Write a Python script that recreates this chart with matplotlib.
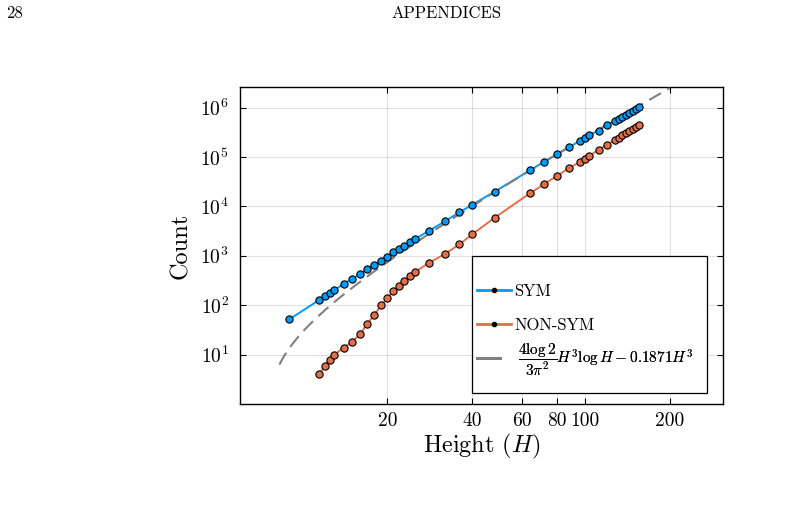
import numpy as np
import matplotlib
matplotlib.use("Agg")
import matplotlib.pyplot as plt
from matplotlib.lines import Line2D
from matplotlib.patches import Rectangle

plt.rcParams['font.family'] = ['cmr10', 'DejaVu Serif']
plt.rcParams['mathtext.fontset'] = 'cm'
plt.rcParams['axes.formatter.use_mathtext'] = True

# ---- data ----
sym_H = [9, 11.5, 12, 12.5, 13, 14, 15, 16, 17, 18, 19, 20, 21, 22, 23, 24, 25,
         28, 32, 36, 40, 48, 64, 72, 80, 88, 96, 100, 104, 112, 120,
         128, 132, 136, 140, 144, 148, 152, 156]
sym_count = [52, 129, 153, 177, 203, 269, 344, 428, 541, 661, 805, 960, 1178,
             1374, 1601, 1875, 2157, 3177, 4990, 7600, 10820, 19860, 53800,
             80400, 115000, 157000, 211000, 239000, 279000, 341000, 444000,
             543000, 598000, 658000, 719000, 786000, 857000, 932000, 1010000]

nonsym_H = [11.5, 12, 12.5, 13, 14, 15, 16, 17, 18, 19, 20, 21, 22, 23, 24, 25,
            28, 32, 36, 40, 48, 64, 72, 80, 88, 96, 100, 104, 112, 120,
            128, 132, 136, 140, 144, 148, 152, 156]
nonsym_count = [4, 6, 8, 10, 14, 18, 26, 42, 64, 100, 140, 191, 245, 305, 385,
                464, 715, 1087, 1710, 2725, 5900, 18400, 28400, 41800, 59000,
                79200, 92500, 106000, 139000, 177000, 221000, 246000, 274000,
                302000, 334000, 368000, 405000, 444000]

fit_coef = 4 * np.log(2) / (3 * np.pi ** 2)
fit_const = 0.1871
fit_range = (8.3, 200)

x_ticks = [20, 40, 60, 80, 100, 200]
x_tick_labels = ['20', '40', '60', '80', '100', '200']
y_ticks = [1e1, 1e2, 1e3, 1e4, 1e5, 1e6]
y_tick_labels = [r'$10^{1}$', r'$10^{2}$', r'$10^{3}$', r'$10^{4}$', r'$10^{5}$', r'$10^{6}$']

labels = ['SYM', 'NON-SYM', r'$\dfrac{4\log 2}{3\pi^2}H^3\log H-0.1871H^3$']

blue = '#009AFA'
orange = '#E36F47'
gray = '#808080'

fig = plt.figure(figsize=(7.96, 5.18), dpi=100)
ax = fig.add_axes([240/796, 1-404/518, 483/796, 317/518])

Hf = np.geomspace(fit_range[0], fit_range[1], 400)
fit = fit_coef * Hf**3 * np.log(Hf) - fit_const * Hf**3

ax.plot(sym_H, sym_count, color=blue, lw=1.4, zorder=3)
ax.plot(nonsym_H, nonsym_count, color=orange, lw=1.4, zorder=3)
ax.plot(Hf, fit, color=gray, lw=1.5, dashes=(6.5, 3.5), zorder=4)
ax.plot(sym_H, sym_count, ls='none', marker='o', ms=5.2, mfc=blue, mec='black', mew=0.8, zorder=5)
ax.plot(nonsym_H, nonsym_count, ls='none', marker='o', ms=5.2, mfc=orange, mec='black', mew=0.8, zorder=5)

ax.set_xscale('log')
ax.set_yscale('log')
ax.set_xlim(6.02, 309)
ax.set_ylim(1.01, 2.6e6)
ax.set_xticks(x_ticks, labels=x_tick_labels)
ax.set_yticks(y_ticks, labels=y_tick_labels)
ax.xaxis.set_minor_locator(matplotlib.ticker.NullLocator())
ax.yaxis.set_minor_locator(matplotlib.ticker.NullLocator())
ax.tick_params(direction='in', length=4, width=0.8, top=True, right=True, labelsize=14)
ax.tick_params(axis='x', pad=6)
ax.tick_params(axis='y', pad=8)
ax.grid(True, color='black', alpha=0.12, lw=0.8)
for s in ax.spines.values():
    s.set_linewidth(1.0)

ax.set_xlabel('Height ($H$)', fontsize=17.5, labelpad=1)
ax.set_ylabel('Count', fontsize=17.5, labelpad=6)

# legend frame
ax.add_patch(Rectangle((0.480, 0.035), 0.487, 0.432, transform=ax.transAxes,
                       facecolor='white', edgecolor='black', lw=0.9, zorder=6))

handles = [Line2D([], [], color=blue, lw=2, marker='o', ms=3, mfc='black', mec='black'),
           Line2D([], [], color=orange, lw=2, marker='o', ms=3, mfc='black', mec='black'),
           Line2D([], [], color=gray, lw=2)]
ypos = [0.356, 0.249, 0.139]
hlen = [2.0, 2.0, 1.5]
hpad = [0.22, 0.22, 1.15]
fsz = [12, 12, 11]
for h, lab, y, hl, hp, fs in zip(handles, labels, ypos, hlen, hpad, fsz):
    lg = ax.legend([h], [lab], loc='center left', bbox_to_anchor=(0.4913, y),
                   bbox_transform=ax.transAxes, frameon=False, fontsize=fs,
                   borderpad=0, borderaxespad=0, handlelength=hl, handletextpad=hp)
    lg.set_zorder(7)
    ax.add_artist(lg)

fig.text(6/796, 1-13/518, '28', fontsize=12, va='center', ha='left')
fig.text(446/796, 1-13/518, 'APPENDICES', fontsize=12, va='center', ha='center')

fig.savefig('out.png', dpi=100)
